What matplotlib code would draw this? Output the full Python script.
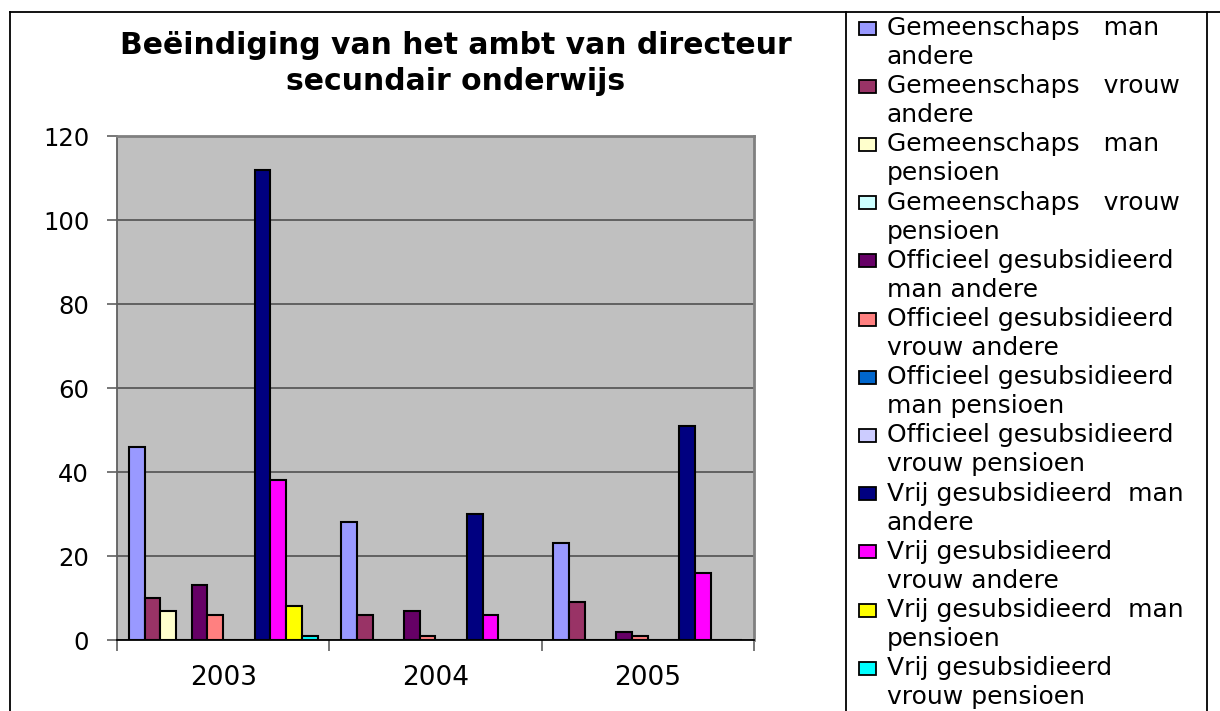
import matplotlib
matplotlib.use("Agg")
import matplotlib.pyplot as plt
import numpy as np
from matplotlib.lines import Line2D
from matplotlib.patches import Rectangle

plt.rcParams["font.family"] = ["DejaVu Sans"]

years = ["2003", "2004", "2005"]
series_labels = [
    "Gemeenschaps   man\nandere",
    "Gemeenschaps   vrouw\nandere",
    "Gemeenschaps   man\npensioen",
    "Gemeenschaps   vrouw\npensioen",
    "Officieel gesubsidieerd\nman andere",
    "Officieel gesubsidieerd\nvrouw andere",
    "Officieel gesubsidieerd\nman pensioen",
    "Officieel gesubsidieerd\nvrouw pensioen",
    "Vrij gesubsidieerd  man\nandere",
    "Vrij gesubsidieerd\nvrouw andere",
    "Vrij gesubsidieerd  man\npensioen",
    "Vrij gesubsidieerd\nvrouw pensioen",
]
# one list per series, values for 2003, 2004, 2005
gem_man_andere = [46, 28, 23]
gem_vrouw_andere = [10, 6, 9]
gem_man_pensioen = [7, 0, 0]
gem_vrouw_pensioen = [0, 0, 0]
off_man_andere = [13, 7, 2]
off_vrouw_andere = [6, 1, 1]
off_man_pensioen = [0, 0, 0]
off_vrouw_pensioen = [0, 0, 0]
vrij_man_andere = [112, 30, 51]
vrij_vrouw_andere = [38, 6, 16]
vrij_man_pensioen = [8, 0, 0]
vrij_vrouw_pensioen = [1, 0, 0]

series_values = [
    gem_man_andere, gem_vrouw_andere, gem_man_pensioen, gem_vrouw_pensioen,
    off_man_andere, off_vrouw_andere, off_man_pensioen, off_vrouw_pensioen,
    vrij_man_andere, vrij_vrouw_andere, vrij_man_pensioen, vrij_vrouw_pensioen,
]
colors = [
    "#9999FF", "#993366", "#FFFFCC", "#CCFFFF",
    "#660066", "#FF8080", "#0066CC", "#CCCCFF",
    "#000080", "#FF00FF", "#FFFF00", "#00FFFF",
]

W, H = 1220, 711
fig = plt.figure(figsize=(W / 100, H / 100), dpi=100)
ax = fig.add_axes([117 / W, 1 - 640 / H, (754 - 117) / W, (640 - 136) / H])
ax.set_facecolor("#C0C0C0")

n = len(series_values)
bar_w = 1 / (n + 1.5)
x = np.arange(len(years))
for j, (vals, col) in enumerate(zip(series_values, colors)):
    ax.bar(x + (j - (n - 1) / 2) * bar_w, vals, width=bar_w, color=col,
           edgecolor="black", linewidth=1.5, zorder=3)

ax.set_xlim(-0.5, len(years) - 0.5)
ax.set_ylim(0, 120)
ax.set_yticks(np.arange(0, 121, 20))
ax.yaxis.grid(True, color="#5a5a5a", linewidth=1.3, zorder=1)
ax.set_axisbelow(True)

ax.set_xticks(x)
ax.set_xticklabels(years)
ax.set_xticks(np.arange(len(years) + 1) - 0.5, minor=True)
ax.tick_params(axis="x", which="major", length=0, pad=18, labelsize=19)
ax.tick_params(axis="x", which="minor", length=8, width=1.2, color="#606060")
ax.tick_params(axis="y", length=7, width=1.2, color="#606060", pad=13, labelsize=17.5)

for side in ("top", "right"):
    ax.spines[side].set_color("#808080")
    ax.spines[side].set_linewidth(2)
ax.spines["left"].set_color("#606060")
ax.spines["left"].set_linewidth(1.3)
ax.spines["bottom"].set_color("black")
ax.spines["bottom"].set_linewidth(1.3)

fig.text(456 / W, 1 - 45 / H, "Beëindiging van het ambt van directeur",
         ha="center", va="center", fontsize=21.5, fontweight="bold")
fig.text(456 / W, 1 - 82 / H, "secundair onderwijs",
         ha="center", va="center", fontsize=21.5, fontweight="bold")

# frame lines around chart and legend
def frame_line(xs, ys):
    fig.add_artist(Line2D([v / W for v in xs], [1 - v / H for v in ys],
                          color="black", linewidth=1.3, transform=fig.transFigure))

frame_line([10, 1220], [12, 12])
frame_line([10, 10], [12, 711])
frame_line([846, 846], [12, 711])
frame_line([1207, 1207], [12, 711])

# legend drawn by hand to match spacing
for i, (label, col) in enumerate(zip(series_labels, colors)):
    y0 = 28 + 58.2 * i
    fig.add_artist(Rectangle((859 / W, 1 - (y0 + 6.5) / H), 17 / W, 13 / H,
                             facecolor=col, edgecolor="black", linewidth=1.3,
                             transform=fig.transFigure))
    for k, line in enumerate(label.split("\n")):
        fig.text(887 / W, 1 - (y0 + 29 * k) / H, line, ha="left", va="center",
                 fontsize=18)

fig.savefig("out.png", dpi=100)
